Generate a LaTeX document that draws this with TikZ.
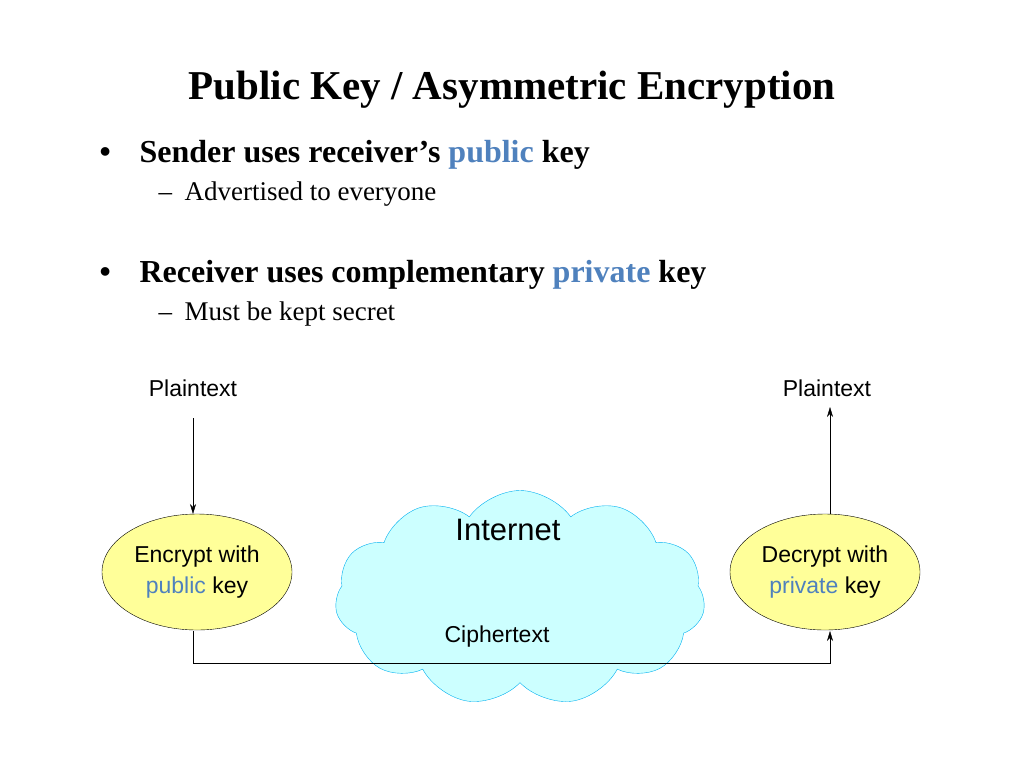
\documentclass[tikz,border=0pt]{standalone}
\usepackage{fontspec}
\setmainfont{Liberation Serif}
\newfontfamily\arial{Liberation Sans}
\usetikzlibrary{shapes.symbols,shapes.geometric,arrows.meta}
\definecolor{kblue}{RGB}{79,129,189}
\definecolor{cloudfill}{RGB}{204,255,255}
\definecolor{cloudline}{RGB}{0,176,240}
\definecolor{ellfill}{RGB}{255,255,153}
\begin{document}
\begin{tikzpicture}[x=1pt,y=-1pt,
  lbl/.style={font=\arial\fontsize{23}{26}\selectfont},
  ell/.style={ellipse,draw=black,fill=ellfill,minimum width=190,minimum height=116,inner sep=0pt,align=center,font=\arial\fontsize{23}{31}\selectfont},
  arr/.style={-{Stealth[length=10pt,width=6pt]},thin},
  bul/.style={anchor=base west,font=\bfseries\fontsize{32}{36}\selectfont},
  sub/.style={anchor=base west,font=\fontsize{27}{30}\selectfont}]
\useasboundingbox (0,0) rectangle (1024,768);
\node[font=\bfseries\fontsize{41}{46}\selectfont] (title) at (512,90) {Public Key / Asymmetric Encryption};
\node[bul] (b1d) at (96,162) {\textbullet};
\node[bul] (b1) at (136,162) {Sender uses receiver’s \textcolor{kblue}{public} key};
\node[sub] (s1d) at (155,200) {–};
\node[sub] (s1) at (181,200) {Advertised to everyone};
\node[bul] (b2d) at (96,282) {\textbullet};
\node[bul] (b2) at (136,282) {Receiver uses complementary \textcolor{kblue}{private} key};
\node[sub] (s2d) at (155,320) {–};
\node[sub] (s2) at (181,320) {Must be kept secret};
\node[cloud,cloud puffs=11,cloud puff arc=110,aspect=1.7,draw=cloudline,fill=cloudfill,minimum width=370,minimum height=215] (cloud) at (520,598) {};
\node[font=\arial\fontsize{31}{34}\selectfont] (inet) at (508,530) {Internet};
\node[lbl] (cipher) at (497,637) {Ciphertext};
\node[lbl] (p1) at (193,388) {Plaintext};
\node[lbl] (p2) at (827,388) {Plaintext};
\node[ell] (enc) at (197,572) {Encrypt with\\\textcolor{kblue}{public} key};
\node[ell] (dec) at (825,572) {Decrypt with\\\textcolor{kblue}{private} key};
\coordinate (a1) at (193,418);
\coordinate (a2) at (830,407);
\coordinate (c1) at (193,631);
\coordinate (c2) at (830,631);
\coordinate (e1) at (193,514);
\coordinate (d1) at (830,514);
\draw[arr] (a1) -- (e1);
\draw[arr] (d1) -- (a2);
\draw[arr] (c1) -- (193,663) -- (830,663) -- (c2);
\end{tikzpicture}
\end{document}
